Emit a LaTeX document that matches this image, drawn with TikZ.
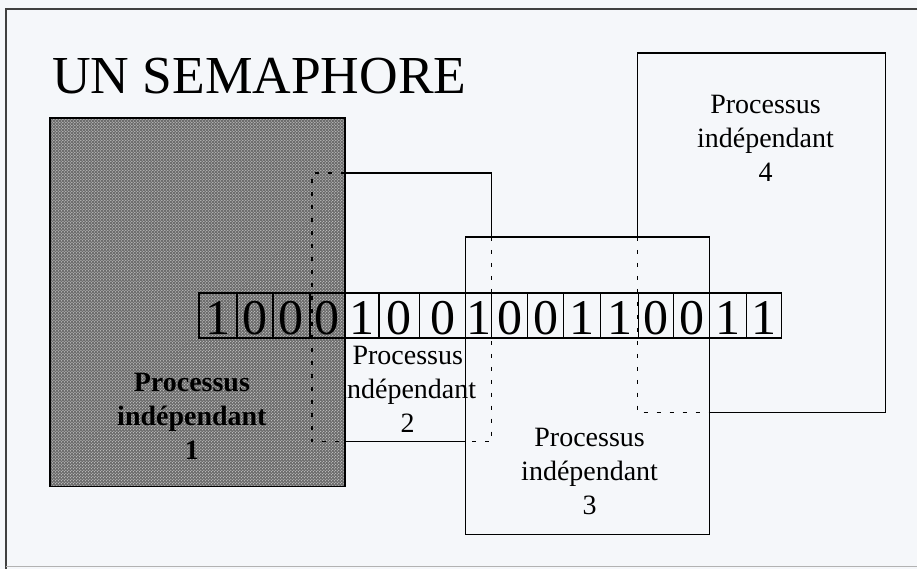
\documentclass[tikz,border=0pt]{standalone}
\usepackage{fontspec}
\setmainfont{Liberation Serif}
\usetikzlibrary{patterns}
\definecolor{fond}{RGB}{245,247,250}
\definecolor{trame}{RGB}{108,108,108}

\begin{document}
\begin{tikzpicture}[
        x=1pt, y=-1pt,
        every node/.style={
            inner sep=0pt,
            align=center,
            font=\fontsize{28}{34}\selectfont
        },
        trait/.style={line width=1.5pt},
        cache/.style={line width=1.5pt, dash pattern=on 4pt off 9pt},
        bitfont/.style={font=\fontsize{50}{50}\selectfont}
    ]

    % Fond et cadre
    \fill[fond] (0,0) rectangle (918,569);
    \draw[line width=1.2pt, black!75] (918,9) -- (6,9) -- (6,569);
    \draw[line width=0.8pt, black!30] (6,567) -- (918,567);

    % Titre
    \node[anchor=base west, font=\fontsize{53.5}{60}\selectfont] (titre) at (52,94) {UN SEMAPHORE};

    % Coins
    \coordinate (b1a) at (50,118);  \coordinate (b1b) at (345,487);
    \coordinate (b2a) at (312,173); \coordinate (b2b) at (492,442);
    \coordinate (b3a) at (466,237); \coordinate (b3b) at (710,535);
    \coordinate (b4a) at (638,53);  \coordinate (b4b) at (886,413);

    % Processus 2 (derriere)
    \node (p2) at (408,390) {Processus\\indépendant\\2};

    % Processus 1
    \fill[trame] (b1a) rectangle (b1b);
    \fill[pattern=crosshatch dots, pattern color=black!5] (b1a) rectangle (b1b);
    \draw[trait] (b1a) rectangle (b1b);
    \node[font=\fontsize{28}{34}\selectfont\bfseries] (p1) at (192,417) {Processus\\indépendant\\1};

    % Contour 2
    \draw[cache] (b1b |- b2a) -- (b2a) -- (b2a |- b2b) -- (b1b |- b2b);
    \draw[cache] (b2b |- b3a) -- (b2b) -- (b3a |- b2b);
    \draw[trait] (b1b |- b2a) -- (b2b |- b2a) -- (b2b |- b3a);
    \draw[trait] (b1b |- b2b) -- (b3a |- b2b);

    % Contour 4
    \draw[cache] (b4a |- b3a) -- (b4a |- b4b) -- (b3b |- b4b);
    \draw[trait] (b4a |- b3a) -- (b4a) -- (b4b |- b4a) -- (b4b) -- (b3b |- b4b);
    \node (p4) at (766,138) {Processus\\indépendant\\4};

    % Processus 3
    \draw[trait] (b3a) rectangle (b3b);
    \node (p3) at (590,472) {Processus\\indépendant\\3};

    % Bande de bits
    \foreach \xa/\xb/\bit [count=\i] in {199/237/1, 237/273/0, 273/310/0, 310/345/0,
            345/379/1, 379/420/0, 420/466/0, 466/492/1, 492/528/0, 528/564/0,
            564/601/1, 601/639/1, 639/674/0, 674/710/0, 710/747/1, 747/782/1} {
        \draw[trait] (\xa,293) rectangle (\xb,338);
        \node[bitfont] (c\i) at ({(\xa+\xb)/2},318) {\bit};
    }

\end{tikzpicture}
\end{document}
